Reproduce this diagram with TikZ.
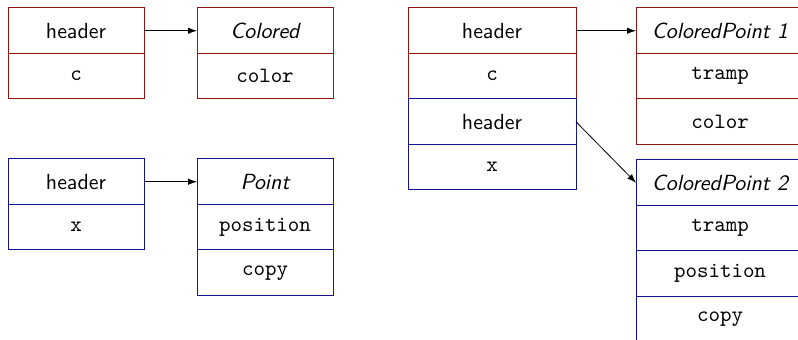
\documentclass[tikz,border=0pt,11pt]{standalone}
\usepackage{tikz}
\usetikzlibrary{positioning,arrows.meta}

\definecolor{boxred}{RGB}{145,20,20}
\definecolor{boxblue}{RGB}{20,20,145}

\begin{document}
\begin{tikzpicture}[x=0.5pt, y=-0.5pt,
	cell/.style={draw, line width=0.5pt, minimum height=22.75pt, inner sep=0pt, outer sep=0pt},
	small/.style={cell, minimum width=68pt},
	wide/.style={cell, minimum width=84pt},
	redc/.style={draw=boxred},
	bluec/.style={draw=boxblue},
	title/.style={font=\sffamily\itshape},
	field/.style={font=\ttfamily},
	hdr/.style={font=\sffamily},
	ptr/.style={-{Latex[length=4.5pt,width=3.2pt]}, black}]
			%%%%% START %%%%%
			\useasboundingbox (0, 0) rectangle (798, 340);
			
			% Colored
			\node[small, redc, hdr, anchor=north west] (ahdr) at (8, 8) {header};
			\node[small, redc, field, below=0pt of ahdr] (ac) {c};
			\node[small, redc, title, anchor=north west] (bttl) at (197, 8) {Colored};
			\node[small, redc, field, below=0pt of bttl] (bcol) {color};
			\draw[ptr] (ahdr) -- (bttl);
			
			% Point
			\node[small, bluec, hdr, anchor=north west] (chdr) at (8, 159) {header};
			\node[small, bluec, field, below=0pt of chdr] (cx) {x};
			\node[small, bluec, title, anchor=north west] (dttl) at (197, 159) {Point};
			\node[small, bluec, field, below=0pt of dttl] (dpos) {position};
			\node[small, bluec, field, below=0pt of dpos] (dcpy) {copy};
			\draw[ptr] (chdr) -- (dttl);
			
			% ColoredPoint
			\node[wide, redc, hdr, anchor=north west] (ehdr) at (408, 8) {header};
			\node[wide, redc, field, below=0pt of ehdr] (ec) {c};
			\node[wide, bluec, hdr, below=0pt of ec] (ehdrb) {header};
			\node[wide, bluec, field, below=0pt of ehdrb] (ex) {x};
			
			\node[wide, redc, title, anchor=north west] (fttl) at (636, 8) {ColoredPoint 1};
			\node[wide, redc, field, below=0pt of fttl] (ftr) {tramp};
			\node[wide, redc, field, below=0pt of ftr] (fcol) {color};
			
			\node[wide, bluec, title, anchor=north west] (gttl) at (636, 160) {ColoredPoint 2};
			\node[wide, bluec, field, below=0pt of gttl] (gtr) {tramp};
			\node[wide, bluec, field, below=0pt of gtr] (gpos) {position};
			\node[wide, bluec, field, below=0pt of gpos] (gcpy) {copy};
			
			\draw[ptr] (ehdr) -- (fttl);
			\draw[ptr] (ehdrb.east) -- (gttl.west);
			%%%%% END %%%%%
\end{tikzpicture}
\end{document}
